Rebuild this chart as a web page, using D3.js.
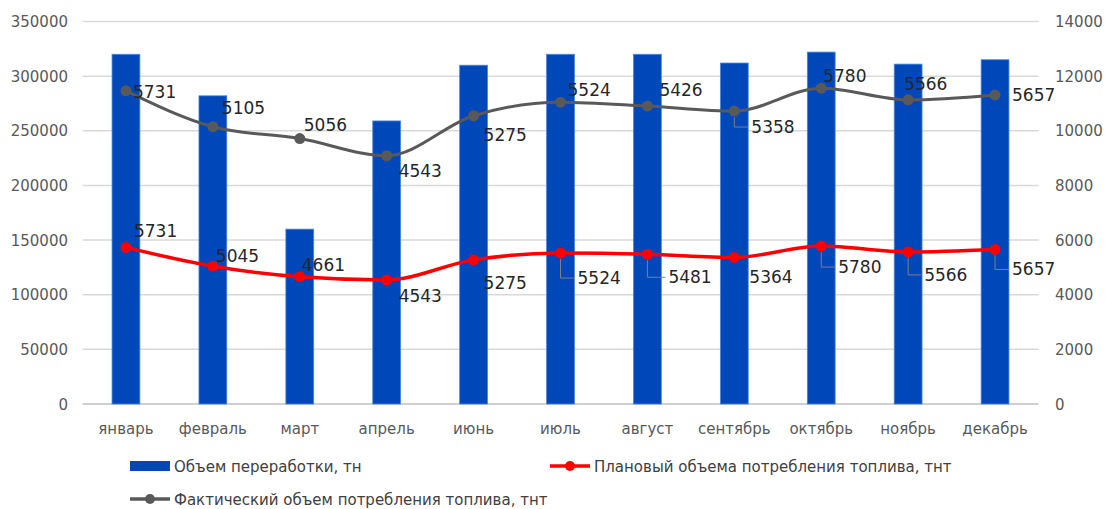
<!DOCTYPE html>
<html>
<head>
<meta charset="utf-8">
<script src="https://cdn.jsdelivr.net/npm/d3@7"></script>
<style>
    body { margin: 0; background: #fff; }
    svg { display: block; font-family: "DejaVu Sans", sans-serif; }
    .tick-label { fill: #595959; font-size: 15px; }
    .data-label { fill: #262626; font-size: 17px; }
    .legend-text { fill: #404040; font-size: 15px; }
</style>
</head>
<body>
<svg id="graph"></svg>
<script>
// Data
var months = [ "январь", "февраль", "март", "апрель", "июнь", "июль", "август", "сентябрь", "октябрь", "ноябрь", "декабрь" ];
var processing = [ 320000, 282000, 160000, 259000, 310000, 320000, 320000, 312000, 322000, 311000, 315000 ];
var planFuel = [ 5731, 5045, 4661, 4543, 5275, 5524, 5481, 5364, 5780, 5566, 5657 ];
var factFuel = [ 5731, 5105, 5056, 4543, 5275, 5524, 5426, 5358, 5780, 5566, 5657 ];
var leftTicks = [ 0, 50000, 100000, 150000, 200000, 250000, 300000, 350000 ];
var rightTicks = [ 0, 2000, 4000, 6000, 8000, 10000, 12000, 14000 ];
var seriesNames = [ "Объем переработки, тн", "Плановый объема потребления топлива, тнт", "Фактический объем потребления топлива, тнт" ];

// label placement relative to the point: [dx, dy, leader]
var planLabelPos = [ [ 8, -10, 0 ], [ 3, -4, 0 ], [ 2, -6, 0 ], [ 12, 22, 0 ], [ 10, 29, 0 ], [ 17, 31, 1 ],
                     [ 21, 29, 1 ], [ 15, 26, 0 ], [ 17, 27, 1 ], [ 16, 29, 1 ], [ 17, 26, 1 ] ];
var factLabelPos = [ [ 7, 7, 0 ], [ 9, -13, 0 ], [ 4, -8, 0 ], [ 12, 21, 0 ], [ 10, 25, 0 ], [ 7, -6, 0 ],
                     [ 12, -10, 0 ], [ 17, 22, 1 ], [ 2, -6, 0 ], [ -4, -10, 0 ], [ 17, 6, 0 ] ];

var svgWidth = 1105,
    svgHeight = 509,
    plot = { left: 82.5, right: 1038.5, top: 21.5, bottom: 404 };

var blue = "#0047ba",
    red = "#ff0000",
    grey = "#595959";

var svg = d3.select( "svg#graph" )
    .attr( "width", svgWidth )
    .attr( "height", svgHeight );

var x = d3.scaleBand()
    .domain( months )
    .range( [ plot.left, plot.right ] )
    .paddingInner( 0.68 )
    .paddingOuter( 0.34 );

var yLeft = d3.scaleLinear().domain( [ 0, 350000 ] ).range( [ plot.bottom, plot.top ] );
var yRight = d3.scaleLinear().domain( [ 0, 14000 ] ).range( [ plot.bottom, plot.top ] );

function cx( i ) { return x( months[ i ] ) + x.bandwidth() / 2; }

// gridlines
svg.append( "g" )
    .selectAll( "line" )
    .data( leftTicks )
    .enter()
    .append( "line" )
    .attr( "x1", plot.left )
    .attr( "x2", plot.right )
    .attr( "y1", function ( d ) { return yLeft( d ); } )
    .attr( "y2", function ( d ) { return yLeft( d ); } )
    .attr( "stroke", function ( d ) { return d === 0 ? "#bfbfbf" : "#d9d9d9"; } )
    .attr( "stroke-width", 1.5 );

// left axis labels
svg.append( "g" )
    .selectAll( "text" )
    .data( leftTicks )
    .enter()
    .append( "text" )
    .classed( "tick-label", true )
    .attr( "x", 68 )
    .attr( "y", function ( d ) { return yLeft( d ) + 5.5; } )
    .attr( "text-anchor", "end" )
    .text( function ( d ) { return d; } );

// right axis labels
svg.append( "g" )
    .selectAll( "text" )
    .data( rightTicks )
    .enter()
    .append( "text" )
    .classed( "tick-label", true )
    .attr( "x", 1055 )
    .attr( "y", function ( d ) { return yRight( d ) + 5.5; } )
    .text( function ( d ) { return d; } );

// category labels
svg.append( "g" )
    .selectAll( "text" )
    .data( months )
    .enter()
    .append( "text" )
    .classed( "tick-label", true )
    .attr( "x", function ( d, i ) { return cx( i ); } )
    .attr( "y", 434 )
    .attr( "text-anchor", "middle" )
    .text( function ( d ) { return d; } );

// bars
svg.append( "g" )
    .selectAll( "rect" )
    .data( processing )
    .enter()
    .append( "rect" )
    .attr( "x", function ( d, i ) { return x( months[ i ] ); } )
    .attr( "y", function ( d ) { return yLeft( d ); } )
    .attr( "width", x.bandwidth() )
    .attr( "height", function ( d ) { return plot.bottom - yLeft( d ); } )
    .attr( "fill", blue )
    .attr( "stroke", "#4a86d8" )
    .attr( "stroke-width", 0.8 );

// stacked lines (plan at bottom, fact on top)
var rows = months.map( function ( m, i ) { return { month: m, plan: planFuel[ i ], fact: factFuel[ i ] }; } );
var stacked = d3.stack().keys( [ "plan", "fact" ] )( rows );

var lineSeries = [
    { layer: stacked[ 0 ], values: planFuel, color: red, width: 3.5, pos: planLabelPos },
    { layer: stacked[ 1 ], values: factFuel, color: grey, width: 3, pos: factLabelPos }
];

var line = d3.line()
    .curve( d3.curveMonotoneX )
    .x( function ( d, i ) { return cx( i ); } )
    .y( function ( d ) { return yRight( d[ 1 ] ); } );

lineSeries.forEach( function ( s ) {
    var g = svg.append( "g" );

    g.append( "path" )
        .attr( "d", line( s.layer ) )
        .attr( "fill", "none" )
        .attr( "stroke", s.color )
        .attr( "stroke-width", s.width )
        .attr( "stroke-linejoin", "round" );

    g.selectAll( "circle" )
        .data( s.layer )
        .enter()
        .append( "circle" )
        .attr( "cx", function ( d, i ) { return cx( i ); } )
        .attr( "cy", function ( d ) { return yRight( d[ 1 ] ); } )
        .attr( "r", 5.5 )
        .attr( "fill", s.color );

    // leader lines
    g.selectAll( "path.leader" )
        .data( s.layer.filter( function ( d, i ) { return s.pos[ i ][ 2 ]; } ) )
        .enter()
        .append( "path" )
        .classed( "leader", true )
        .attr( "d", function ( d ) {
            var i = s.layer.indexOf( d ),
                px = cx( i ),
                py = yRight( d[ 1 ] ),
                ly = py + s.pos[ i ][ 1 ] - 6;
            return "M" + [ px, py + 6 ] + "L" + [ px, ly ] + "L" + [ px + s.pos[ i ][ 0 ] - 3, ly ];
        } )
        .attr( "fill", "none" )
        .attr( "stroke", "#7f7f7f" )
        .attr( "stroke-width", 1 );

    g.selectAll( "text" )
        .data( s.layer )
        .enter()
        .append( "text" )
        .classed( "data-label", true )
        .attr( "x", function ( d, i ) { return cx( i ) + s.pos[ i ][ 0 ]; } )
        .attr( "y", function ( d, i ) { return yRight( d[ 1 ] ) + s.pos[ i ][ 1 ]; } )
        .text( function ( d, i ) { return s.values[ i ]; } );
} );

// legend
var legend = svg.append( "g" ).classed( "legend", true );
var legendItems = [
    { name: seriesNames[ 0 ], x: 130, y: 466, type: "bar", color: blue },
    { name: seriesNames[ 1 ], x: 550, y: 466, type: "line", color: red },
    { name: seriesNames[ 2 ], x: 130, y: 499, type: "line", color: grey }
];

legendItems.forEach( function ( d ) {
    var item = legend.append( "g" ).attr( "transform", "translate(" + [ d.x, d.y ] + ")" );
    if ( d.type === "bar" ) {
        item.append( "rect" )
            .attr( "x", 0 ).attr( "y", -5 )
            .attr( "width", 40 ).attr( "height", 10 )
            .attr( "fill", d.color );
    } else {
        item.append( "line" )
            .attr( "x1", 0 ).attr( "x2", 40 )
            .attr( "stroke", d.color ).attr( "stroke-width", 3.5 );
        item.append( "circle" )
            .attr( "cx", 20 ).attr( "r", 5 )
            .attr( "fill", d.color );
    }
    item.append( "text" )
        .classed( "legend-text", true )
        .attr( "x", 44 )
        .attr( "y", 5.5 )
        .text( d.name );
} );
</script>
</body>
</html>
